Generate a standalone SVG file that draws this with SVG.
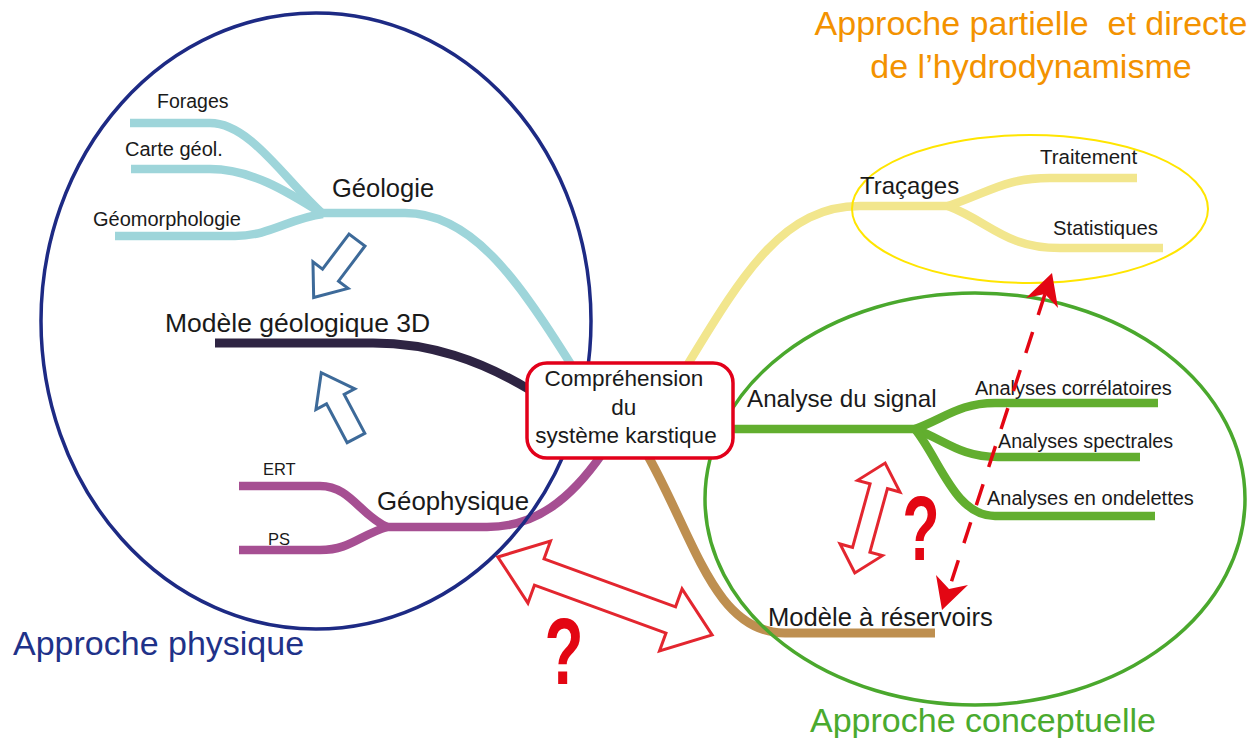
<svg xmlns="http://www.w3.org/2000/svg" width="1260" height="738" viewBox="0 0 1260 738">
<style>
  .t { font-family: "Liberation Sans", Arial, sans-serif; fill: #1a1a1a; }
  .br { fill: none; stroke-linecap: butt; stroke-linejoin: round; }
  .cyan { stroke: #9ed5da; stroke-width: 8.5; }
  .dark { stroke: #2e2443; stroke-width: 9; }
  .purp { stroke: #a64f92; stroke-width: 8.5; }
  .yel { stroke: #f2e68d; stroke-width: 8.5; }
  .grn { stroke: #62ae2f; stroke-width: 8.5; }
  .brn { stroke: #be8f50; stroke-width: 9; }
  .barrow { fill: #ffffff; stroke: #3d6a99; stroke-width: 3; stroke-linejoin: miter; }
  .rarrow { fill: #ffffff; stroke: #e3262f; stroke-width: 3; stroke-linejoin: miter; }
  .q { font-family: "Liberation Sans", Arial, sans-serif; font-weight: bold; fill: #e30613; }
  .title { font-family: "Liberation Sans", Arial, sans-serif; font-size: 34px; }
</style>
<rect x="0" y="0" width="1260" height="738" fill="#ffffff"/>

<g id="connectors">
  <!-- Geology -->
  <path class="br cyan" d="M130,123 L210,123 C250,123 285,180 323,214"/>
  <path class="br cyan" d="M131,169 L210,169 C250,169 285,190 323,214"/>
  <path class="br cyan" d="M115,236 L235,236 C270,236 290,218 323,214"/>
  <path class="br cyan" d="M320,213 L405,213 C470,213 515,275 572,366"/>
  <!-- Modele geologique -->
  <path class="br dark" d="M215,343 L373,343 C430,343 480,360 530,390"/>
  <!-- Geophysique -->
  <path class="br purp" d="M239,486 L320,486 C350,486 360,515 387,527"/>
  <path class="br purp" d="M239,550 L320,550 C350,550 360,535 387,527"/>
  <path class="br purp" d="M384,527 L487,527 C535,527 570,500 602,454"/>
  <!-- Tracages -->
  <path class="br yel" d="M688,364 C745,270 785,206 860,206 L950,206"/>
  <path class="br yel" d="M948,206 C990,192 1005,178 1050,178 L1137,178"/>
  <path class="br yel" d="M948,206 C990,222 1005,248 1060,248 L1163,248"/>
  <!-- Analyse du signal -->
  <path class="br grn" d="M730,429 L920,429"/>
  <path class="br grn" d="M915,429 C945,418 960,403 995,403 L1158,403"/>
  <path class="br grn" d="M915,429 C945,440 960,457 998,457 L1140,457"/>
  <path class="br grn" d="M915,429 C940,460 955,516 995,516 L1155,516"/>
  <!-- Modele a reservoirs -->
  <path class="br brn" d="M648,456 C695,540 715,633 785,633 L935,633"/>
</g>

<g id="ellipses">
  <ellipse id="approche-physique-zone" cx="316" cy="321" rx="275" ry="308" fill="none" stroke="#1d2a84" stroke-width="3.5"/>
  <ellipse id="approche-conceptuelle-zone" cx="975" cy="499" rx="270" ry="206" fill="none" stroke="#4aa82d" stroke-width="3.5"/>
  <ellipse id="approche-partielle-zone" cx="1030" cy="209" rx="178" ry="74" fill="none" stroke="#ffe500" stroke-width="2"/>
</g>

<g id="center">
  <rect x="527" y="363" width="206" height="95" rx="20" ry="20" fill="#ffffff" stroke="#e2001a" stroke-width="3.5"/>
  <text class="t" font-size="22.5" text-anchor="middle">
    <tspan x="627" y="386">Compréhension</tspan>
    <tspan x="627" y="415">du</tspan>
    <tspan x="626" y="443">système karstique</tspan>
  </text>
</g>

<g id="geologie">
  <text class="t" x="332" y="197" font-size="25.5">Géologie</text>
  <text class="t" x="157" y="108" font-size="19.5">Forages</text>
  <text class="t" x="125" y="156" font-size="20">Carte géol.</text>
  <text class="t" x="93" y="226" font-size="20">Géomorphologie</text>
</g>
<g id="modele-3d">
  <text class="t" x="165" y="332" font-size="26.5">Modèle géologique 3D</text>
</g>
<g id="geophysique">
  <text class="t" x="377" y="510" font-size="25.8">Géophysique</text>
  <text class="t" x="263" y="475" font-size="16.5">ERT</text>
  <text class="t" x="268" y="545" font-size="16.5">PS</text>
</g>
<g id="tracages">
  <text class="t" x="860" y="194" font-size="24">Traçages</text>
  <text class="t" x="1040" y="164" font-size="20.5">Traitement</text>
  <text class="t" x="1053" y="235" font-size="20.3">Statistiques</text>
</g>
<g id="analyse-signal">
  <text class="t" x="747" y="407" font-size="24.2">Analyse du signal</text>
  <text class="t" x="975" y="395" font-size="20">Analyses corrélatoires</text>
  <text class="t" x="998" y="448" font-size="19.7">Analyses spectrales</text>
  <text class="t" x="987" y="505" font-size="20">Analyses en ondelettes</text>
</g>
<g id="modele-reservoirs">
  <text class="t" x="768" y="626" font-size="25.6">Modèle à réservoirs</text>
</g>

<g id="titles">
  <text class="title" x="13" y="655" fill="#1f3289">Approche physique</text>
  <text class="title" x="810" y="732" font-size="34.5" fill="#4aaa2e">Approche conceptuelle</text>
  <text class="title" text-anchor="middle" fill="#f39200" xml:space="preserve"><tspan x="1031" y="35">Approche partielle  et directe</tspan><tspan x="1031" y="78">de l’hydrodynamisme</tspan></text>
</g>

<g id="blue-arrows">
  <polygon class="barrow" transform="translate(357,240) rotate(127)" points="0,-10 44,-10 44,-22 72,0 44,22 44,10 0,10"/>
  <polygon class="barrow" transform="translate(356,438) rotate(-118)" points="0,-10 44,-10 44,-22 74,0 44,22 44,10 0,10"/>
</g>

<g id="red-arrows">
  <polygon class="rarrow" transform="translate(605,596) rotate(20)" points="-114,0 -70,-33 -70,-14 70,-14 70,-33 114,0 70,33 70,14 -70,14 -70,33"/>
  <polygon class="rarrow" transform="translate(870,518) rotate(-74.6)" points="-57,0 -33,-22 -33,-9 33,-9 33,-22 57,0 33,22 33,9 -33,9 -33,22"/>
  <text class="q" transform="translate(564,684) scale(0.68,1)" x="0" y="0" font-size="94" text-anchor="middle">?</text>
  <text class="q" transform="translate(921,560) scale(0.68,1)" x="0" y="0" font-size="90" text-anchor="middle">?</text>
</g>

<g id="dashed-arrow">
  <line x1="1045" y1="294" x2="949" y2="589" stroke="#e30613" stroke-width="3.5" stroke-dasharray="22 18"/>
  <polygon fill="#e30613" points="1052,273 1058,308 1045,294 1026,298"/>
  <polygon fill="#e30613" points="942,610 936,575 949,589 968,585"/>
</g>
</svg>
